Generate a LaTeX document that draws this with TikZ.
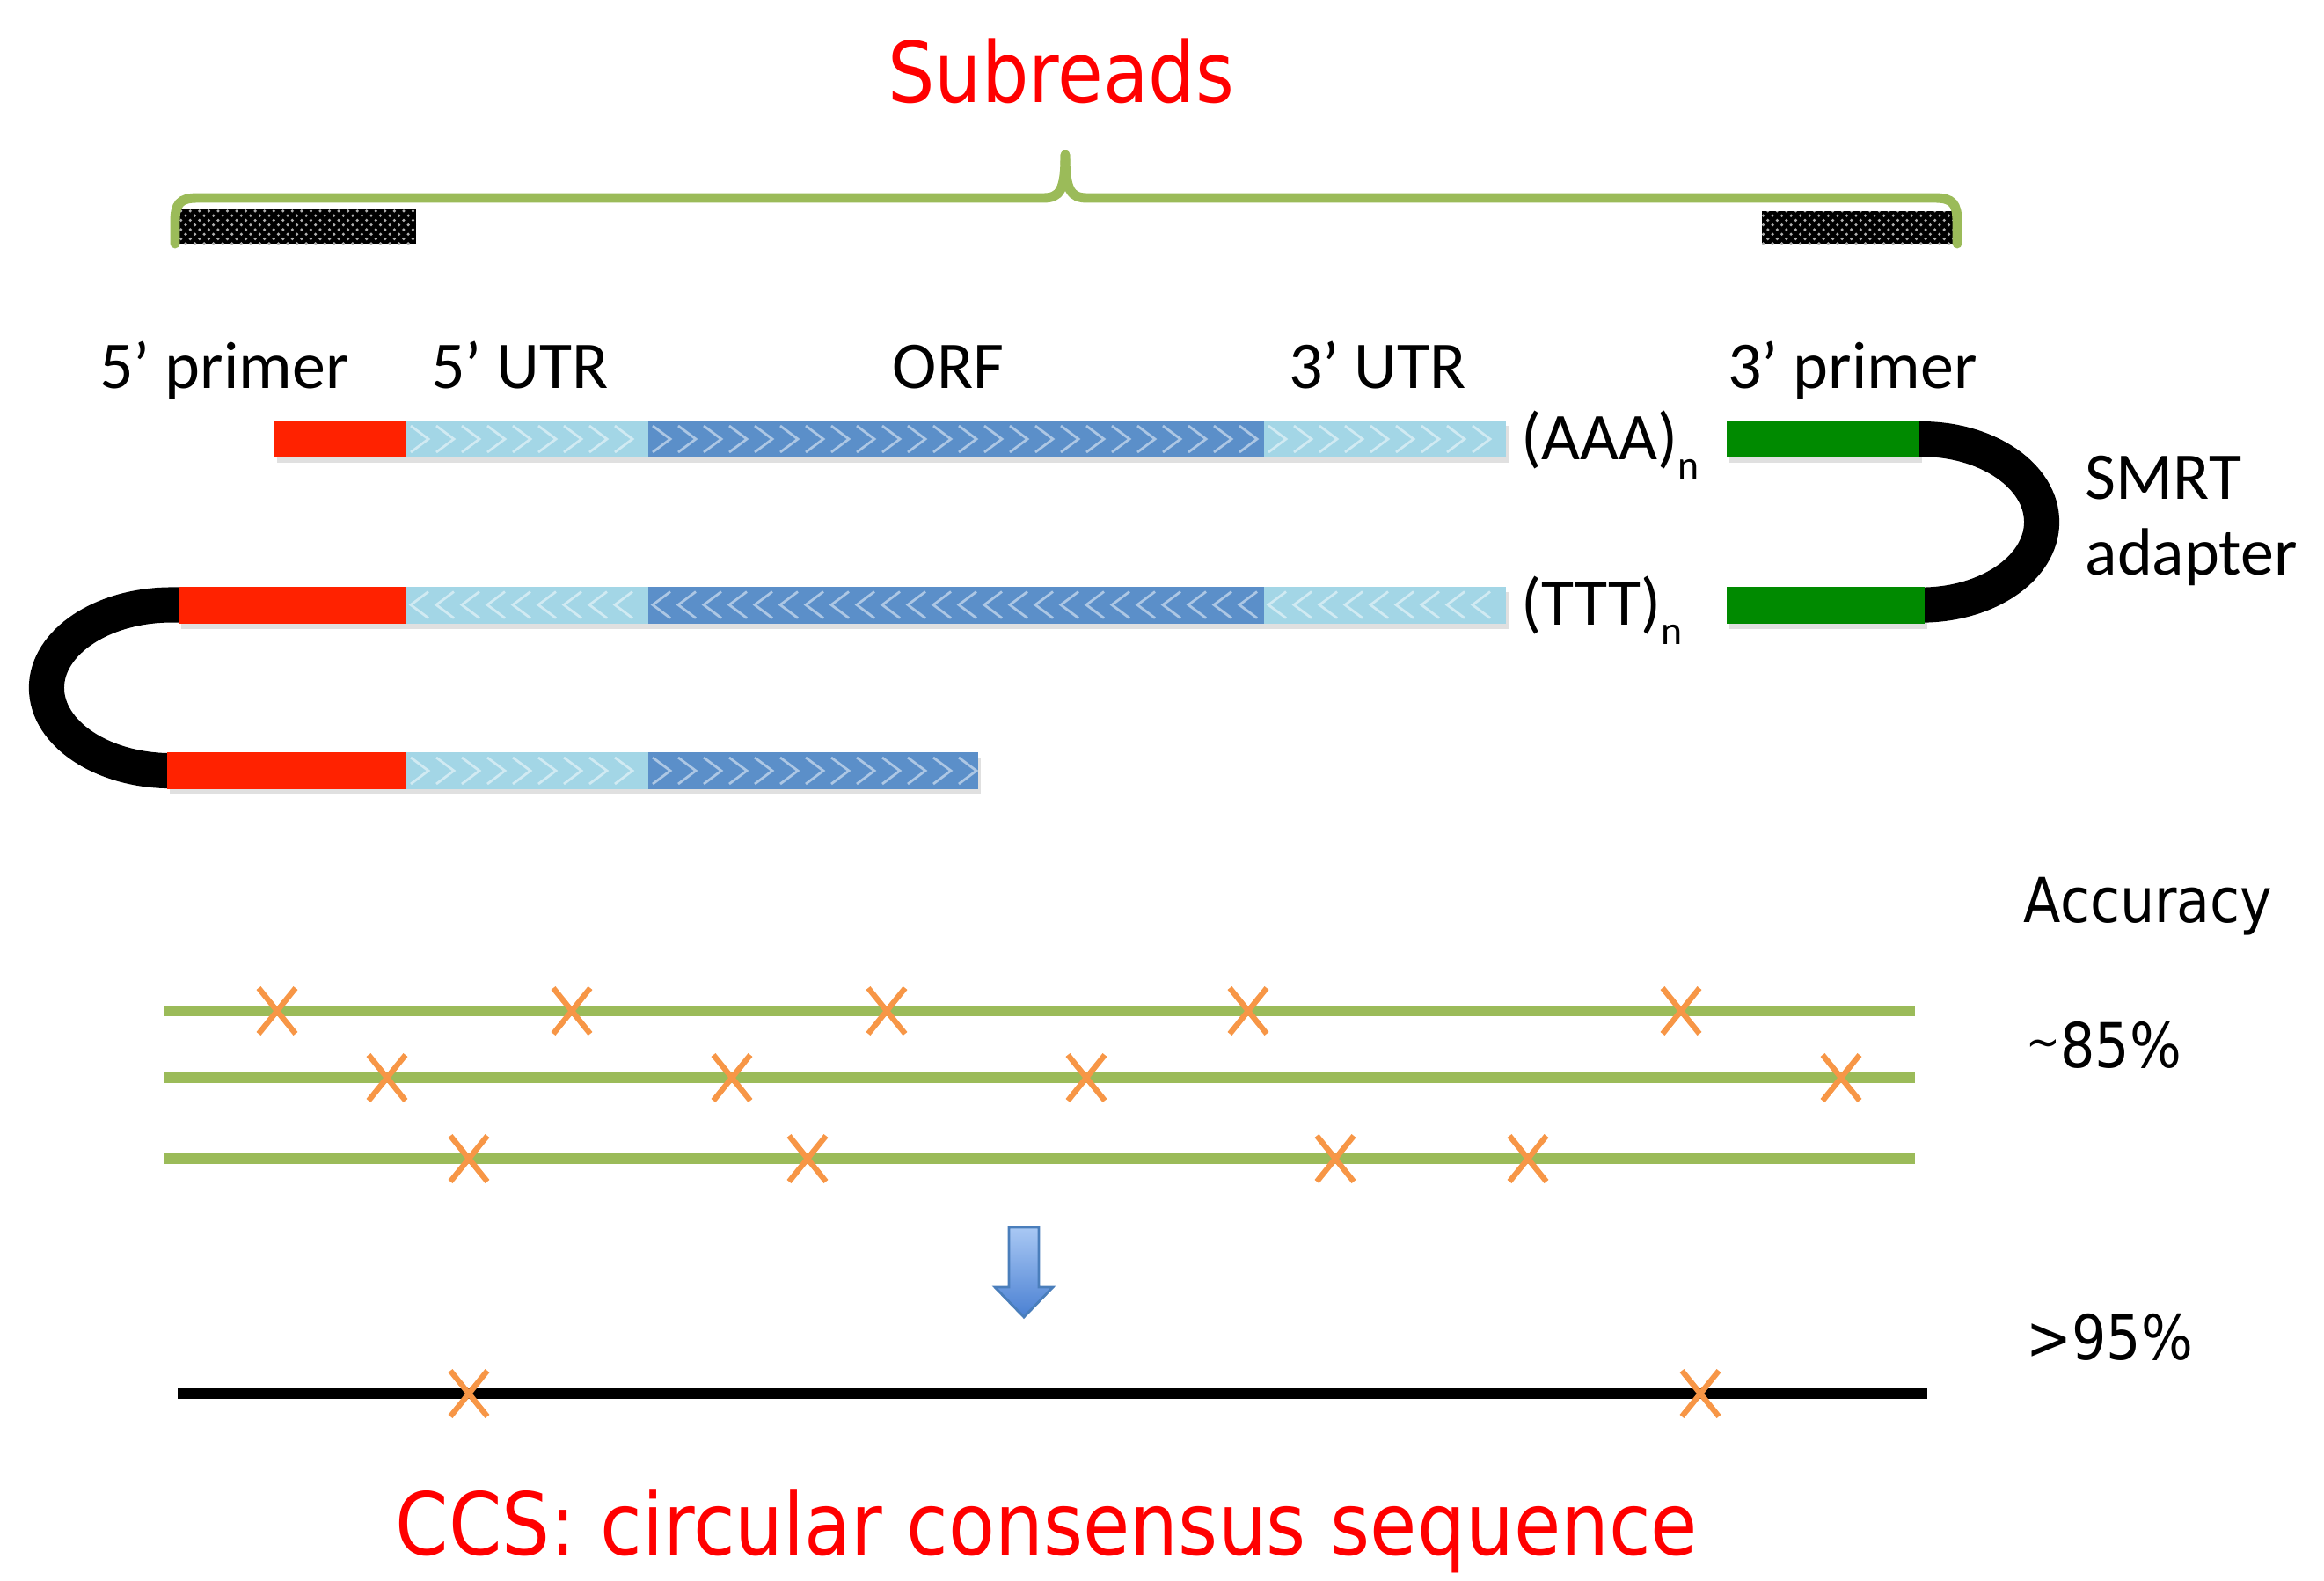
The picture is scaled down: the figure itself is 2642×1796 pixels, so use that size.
\documentclass[tikz,border=0pt]{standalone}
\usepackage{fontspec}
\setmainfont{DejaVu Sans}[FakeStretch=0.88]
\newfontfamily\carl{Carlito}
\usetikzlibrary{patterns}
\definecolor{barred}{HTML}{FF2200}
\definecolor{bargreen}{HTML}{008A00}
\definecolor{lblue}{HTML}{A3D6E6}
\definecolor{dblue}{HTML}{5B8FC9}
\definecolor{olive}{HTML}{9BBB59}
\definecolor{xorange}{HTML}{F79646}
\definecolor{titlered}{HTML}{FF0000}
\definecolor{arrtop}{HTML}{A9C8F4}
\definecolor{arrbot}{HTML}{4A80D2}
\definecolor{arredge}{HTML}{4A7EBB}
\newcommand\mychevrons[4]{%
  \begin{scope}
    \clip (#1,{#3-21}) rectangle (#2,{#3+21});
    \pgfmathsetmacro\cs{#1+15}\pgfmathsetmacro\cn{#1+44}
    \foreach \x in {\cs,\cn,...,#2}{
      \draw[chev] ({\x-10*(#4)},{#3-15}) -- ({\x+10*(#4)},#3) -- ({\x-10*(#4)},{#3+15});
    }
  \end{scope}}
\newcommand\dnabar[4]{% x1 x2 yc colour
  \fill[barshadow] ({#1+3},{#3-15}) rectangle ({#2+3},{#3+27});
  \fill[#4] (#1,{#3-21}) rectangle (#2,{#3+21});}
\newcommand\errmark[2]{%
  \draw[xm] ({#1-21},{#2-26}) -- ({#1+21},{#2+26});
  \draw[xm] ({#1-21},{#2+26}) -- ({#1+21},{#2-26});}
\newcommand\subn{\raisebox{-0.3em}{\fontsize{13}{13}\selectfont n}}
\begin{document}
\begin{tikzpicture}[x=0.01cm,y=-0.01cm,
  chev/.style={draw=white,opacity=0.5,line width=0.8pt},
  barshadow/.style={fill=black,opacity=0.12},
  brace/.style={draw=olive,line width=3.1pt,line cap=round},
  adapter/.style={draw=black,line width=11.4pt},
  read/.style={draw=olive,line width=3.3pt},
  ccsline/.style={draw=black,line width=3.5pt},
  xm/.style={draw=xorange,line width=1.8pt},
  lab/.style={font=\carl\fontsize{21.6}{24}\selectfont,inner sep=0pt},
  acc/.style={font=\fontsize{20}{24}\selectfont,inner sep=0pt,anchor=base west},
  title/.style={font=\fontsize{27.2}{32}\selectfont,text=titlered,inner sep=0pt}]
\useasboundingbox (0,0) rectangle (2642,1796);
\fill[white] (0,0) rectangle (2642,1796);

% title and brace
\node[title,anchor=base] (subreads) at (1206,116) {Subreads};
\fill[black] (201,237) rectangle (473,277);
\fill[pattern=crosshatch dots,pattern color=white!70!black] (201,237) rectangle (473,277);
\fill[black] (2003,240) rectangle (2225,277);
\fill[pattern=crosshatch dots,pattern color=white!70!black] (2003,240) rectangle (2225,277);
\draw[brace] (199,277) -- (199,252) .. controls (199,232) and (204,225) .. (224,225) -- (1186,225) .. controls (1205,225) and (1211,216) .. (1211,176);
\draw[brace] (2225,277) -- (2225,252) .. controls (2225,232) and (2220,225) .. (2200,225) -- (1236,225) .. controls (1217,225) and (1211,216) .. (1211,176);

% labels
\node[lab,anchor=base] (p5) at (255,441) {5’ primer};
\node[lab,anchor=base] (u5) at (591,441) {5’ UTR};
\node[lab,anchor=base] (orf) at (1078,441) {ORF};
\node[lab,anchor=base] (u3) at (1566,441) {3’ UTR};
\node[lab,anchor=base] (p3) at (2106,441) {3’ primer};

% adapters
\draw[adapter] (2176,499) -- (2184,499) arc[start angle=90,end angle=-90,x radius=1.37cm,y radius=0.9425cm] -- (2176,687.5);
\draw[adapter] (205,687.5) -- (195,687.5) arc[start angle=90,end angle=270,x radius=1.42cm,y radius=0.9425cm] -- (205,876);

% strand 1
\dnabar{312}{462}{499}{barred}
\dnabar{462}{737}{499}{lblue}
\dnabar{737}{1437}{499}{dblue}
\dnabar{1437}{1712}{499}{lblue}
\mychevrons{462}{737}{499}{1}
\mychevrons{737}{1437}{499}{1}
\mychevrons{1437}{1712}{499}{1}
\dnabar{1963}{2182}{499}{bargreen}
\node[lab,anchor=base west] (aaa) at (1729,522) {(AAA)\subn};

% strand 2
\dnabar{203}{462}{687.5}{barred}
\dnabar{462}{737}{687.5}{lblue}
\dnabar{737}{1437}{687.5}{dblue}
\dnabar{1437}{1712}{687.5}{lblue}
\mychevrons{462}{737}{687.5}{-1}
\mychevrons{737}{1437}{687.5}{-1}
\mychevrons{1437}{1712}{687.5}{-1}
\dnabar{1963}{2188}{687.5}{bargreen}
\node[lab,anchor=base west] (ttt) at (1729,710) {(TTT)\subn};

% strand 3
\dnabar{190}{462}{876}{barred}
\dnabar{462}{737}{876}{lblue}
\dnabar{737}{1112}{876}{dblue}
\mychevrons{462}{737}{876}{1}
\mychevrons{737}{1112}{876}{1}

% SMRT adapter
\node[lab,anchor=base west] (smrt) at (2370,567) {SMRT};
\node[lab,anchor=base west] (adapt) at (2370,653) {adapter};

% accuracy
\node[acc] (accuracy) at (2300,1048) {Accuracy};
\node[acc] (a85) at (2303,1213) {{\fontsize{15}{15}\selectfont\raisebox{0.2em}{\textasciitilde}}85\%};
\node[acc] (a95) at (2303,1545) {>95\%};

% subreads
\draw[read] (187,1149) -- (2177,1149);
\draw[read] (187,1225) -- (2177,1225);
\draw[read] (187,1317) -- (2177,1317);
\foreach \p in {315,650,1008,1419,1911} {\errmark{\p}{1149}}
\foreach \p in {440,832,1235,2093} {\errmark{\p}{1225}}
\foreach \p in {533,918,1518,1737} {\errmark{\p}{1317}}

% arrow
\shade[top color=arrtop,bottom color=arrbot,draw=arredge,line width=0.8pt]
  (1147,1395) -- (1181,1395) -- (1181,1463) -- (1197,1463) -- (1164,1497) -- (1131,1463) -- (1147,1463) -- cycle;

% consensus
\draw[ccsline] (202,1584) -- (2191,1584);
\errmark{533}{1584}
\errmark{1933}{1584}
\node[title,anchor=base] (ccs) at (1190,1767) {\fontsize{28}{32}\selectfont CCS: circular consensus sequence};
\end{tikzpicture}
\end{document}
